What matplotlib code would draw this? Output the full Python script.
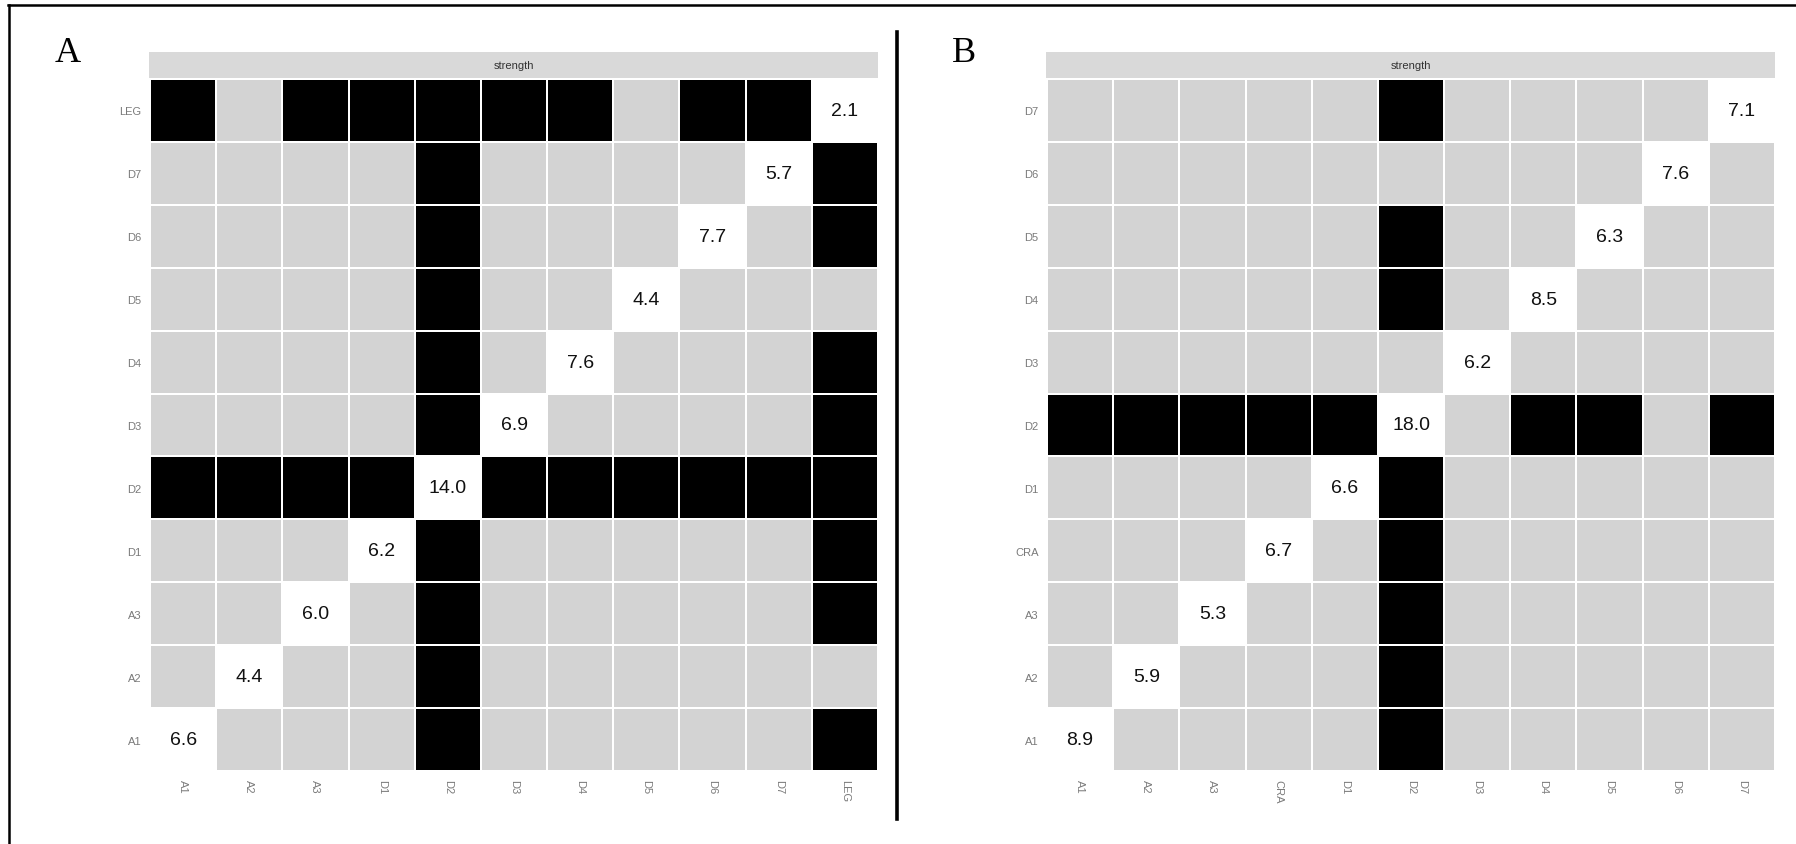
import numpy as np
import matplotlib.pyplot as plt
from matplotlib.colors import ListedColormap
from matplotlib.lines import Line2D

# panel A: segments incl. LEG
labels_a = ['A1', 'A2', 'A3', 'D1', 'D2', 'D3', 'D4', 'D5', 'D6', 'D7', 'LEG']
diag_a = [6.6, 4.4, 6.0, 6.2, 14.0, 6.9, 7.6, 4.4, 7.7, 5.7, 2.1]
sig_a = {
    'D2': ['A1', 'A2', 'A3', 'D1', 'D3', 'D4', 'D5', 'D6', 'D7', 'LEG'],
    'LEG': ['A1', 'A3', 'D1', 'D2', 'D3', 'D4', 'D6', 'D7'],
}

# panel B: segments incl. CRA
labels_b = ['A1', 'A2', 'A3', 'CRA', 'D1', 'D2', 'D3', 'D4', 'D5', 'D6', 'D7']
diag_b = [8.9, 5.9, 5.3, 6.7, 6.6, 18.0, 6.2, 8.5, 6.3, 7.6, 7.1]
sig_b = {
    'D2': ['A1', 'A2', 'A3', 'CRA', 'D1', 'D4', 'D5', 'D7'],
}

W, H = 1796, 845
TILE_GREY = '#D3D3D3'
STRIP_GREY = '#D9D9D9'


def build_matrix(labels, sig):
    n = len(labels)
    m = np.zeros((n, n))
    for a, others in sig.items():
        i = labels.index(a)
        for b in others:
            j = labels.index(b)
            m[i, j] = 1
            m[j, i] = 1
    np.fill_diagonal(m, 2)
    return m


def px_axes(fig, x0, y0, x1, y1):
    # pixel box (top-left origin) -> figure axes
    return fig.add_axes([x0 / W, 1 - y1 / H, (x1 - x0) / W, (y1 - y0) / H])


def draw_panel(fig, x0, x1, labels, diag, sig, letter):
    m = build_matrix(labels, sig)
    n = len(labels)
    cmap = ListedColormap([TILE_GREY, 'black', 'white'])

    ax = px_axes(fig, x0, 80, x1, 772)
    ax.pcolormesh(np.arange(n + 1), np.arange(n + 1), m, cmap=cmap,
                  vmin=-0.5, vmax=2.5, edgecolors='white', linewidth=1.4)
    for k, v in enumerate(diag):
        ax.text(k + 0.5, k + 0.5, f'{v:.1f}', ha='center', va='center',
                fontsize=14, color='#111111', family='Liberation Sans')
    ax.set_xlim(0, n)
    ax.set_ylim(0, n)
    ax.set_xticks(np.arange(n) + 0.5)
    ax.set_yticks(np.arange(n) + 0.5)
    ax.set_xticklabels(labels, rotation=-90, va='top', ha='center')
    ax.set_yticklabels(labels)
    ax.tick_params(length=0, labelsize=8, labelcolor='#7a7a7a', pad=6)
    for lab in ax.get_xticklabels() + ax.get_yticklabels():
        lab.set_family('Liberation Sans')
    for s in ax.spines.values():
        s.set_visible(False)

    # facet strip
    st = px_axes(fig, x0 - 1, 53, x1, 79)
    st.set_facecolor(STRIP_GREY)
    st.set_xticks([])
    st.set_yticks([])
    for s in st.spines.values():
        s.set_visible(False)
    st.text(0.5, 0.5, 'strength', ha='center', va='center', fontsize=8,
            color='#333333', family='Liberation Sans', transform=st.transAxes)

    fig.text((x0 - 95) / W, 1 - 62 / H, letter, ha='left', va='baseline',
             fontsize=26, family='Liberation Serif')


fig = plt.figure(figsize=(W / 100, H / 100), dpi=100)

draw_panel(fig, 150, 878, labels_a, diag_a, sig_a, 'A')
draw_panel(fig, 1047, 1775, labels_b, diag_b, sig_b, 'B')

# frame lines and divider
fig.add_artist(Line2D([8 / W, 1], [1 - 6 / H, 1 - 6 / H], color='black', lw=1.8))
fig.add_artist(Line2D([9 / W, 9 / W], [0, 1 - 6 / H], color='black', lw=1.8))
fig.add_artist(Line2D([897 / W, 897 / W], [1 - 820 / H, 1 - 33 / H], color='black', lw=2.6))

fig.savefig('out.png', dpi=100)
